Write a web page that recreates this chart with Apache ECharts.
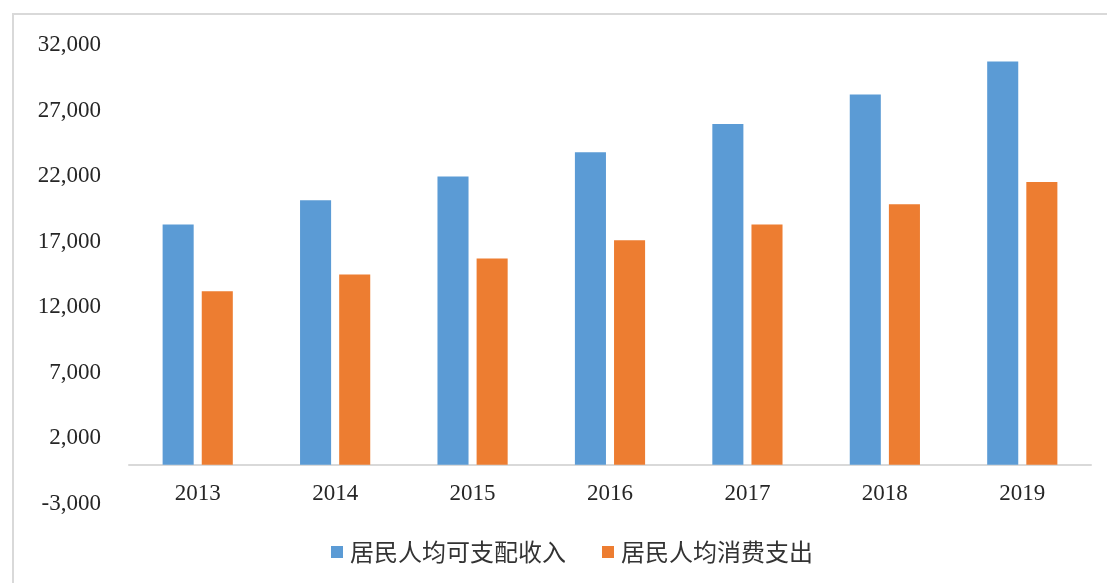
<!DOCTYPE html>
<html>
<head>
<meta charset="utf-8">
<script src="https://cdn.jsdelivr.net/npm/echarts@6/dist/echarts.min.js"></script>
<style>
html,body{margin:0;padding:0;background:#fff;}
#chart{width:1107px;height:583px;}
</style>
</head>
<body>
<div id="chart"></div>
<script>
const categories = ['2013', '2014', '2015', '2016', '2017', '2018', '2019'];
const incomeName = '居民人均可支配收入';
const spendName = '居民人均消费支出';
const income = [18311, 20167, 21966, 23821, 25974, 28228, 30733];
const spending = [13220, 14491, 15712, 17111, 18322, 19853, 21559];
const yMin = -3000, yMax = 32000, yStep = 5000;

const chart = echarts.init(document.getElementById('chart'));
const serif = '"Liberation Serif", "Times New Roman", "Noto Sans CJK SC", serif';
chart.setOption({
  animation: false,
  backgroundColor: '#fff',
  graphic: [
    { type: 'line', shape: { x1: 13, y1: 14, x2: 1107, y2: 14 }, style: { stroke: '#d9d9d9', lineWidth: 2 } },
    { type: 'line', shape: { x1: 13, y1: 13, x2: 13, y2: 583 }, style: { stroke: '#d9d9d9', lineWidth: 2 } }
  ],
  grid: { left: 129, right: 16, top: 45, bottom: 79, containLabel: false },
  legend: {
    bottom: 14,
    left: 326,
    itemWidth: 12,
    itemHeight: 12,
    itemGap: 36,
    icon: 'rect',
    textStyle: { fontFamily: '"Noto Sans CJK SC", sans-serif', fontSize: 24, color: '#333', padding: [0, 0, 0, 2] },
    data: [incomeName, spendName]
  },
  xAxis: {
    type: 'category',
    data: categories,
    axisLine: { onZero: true, lineStyle: { color: '#d9d9d9', width: 2 } },
    axisTick: { show: false },
    axisLabel: { fontFamily: serif, fontSize: 23, color: '#262626', margin: -22 }
  },
  yAxis: {
    type: 'value',
    min: yMin,
    max: yMax,
    interval: yStep,
    axisLine: { show: false },
    axisTick: { show: false },
    splitLine: { show: false },
    axisLabel: {
      fontFamily: serif, fontSize: 23, color: '#262626', margin: 28,
      formatter: v => v.toLocaleString('en-US')
    }
  },
  series: [
    { name: incomeName, type: 'bar', data: income, barWidth: '22.6%', barGap: '26%', itemStyle: { color: '#5B9BD5' } },
    { name: spendName, type: 'bar', data: spending, barWidth: '22.6%', itemStyle: { color: '#ED7D31' } }
  ]
});
</script>
</body>
</html>
